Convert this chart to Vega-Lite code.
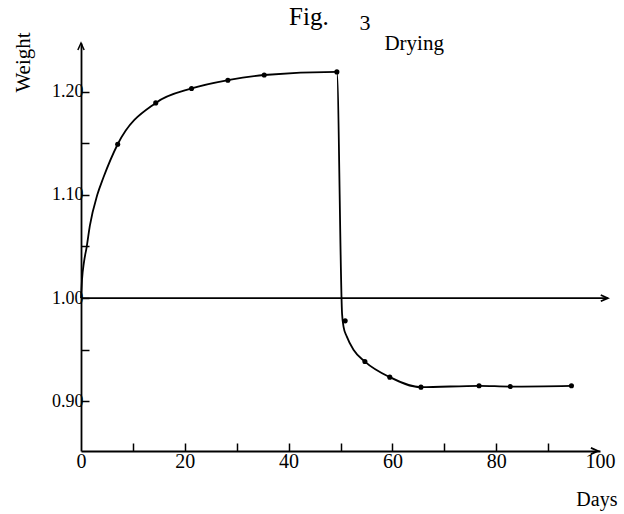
{
  "$schema": "https://vega.github.io/schema/vega-lite/v6.json",
  "width": 519,
  "height": 408,
  "autosize": "none",
  "padding": {"left": 81, "top": 43, "right": 24, "bottom": 63},
  "background": "white",
  "config": {"view": {"stroke": null}, "font": "Liberation Serif"},
  "datasets": {
    "curve": [
      {"day": 0, "weight": 1.0},
      {"day": 0.19, "weight": 1.0177},
      {"day": 0.58, "weight": 1.035},
      {"day": 1.1, "weight": 1.0497},
      {"day": 1.7, "weight": 1.07},
      {"day": 3.14, "weight": 1.1},
      {"day": 4.3, "weight": 1.1165},
      {"day": 7.07, "weight": 1.149},
      {"day": 14.4, "weight": 1.189},
      {"day": 21.3, "weight": 1.203},
      {"day": 28.3, "weight": 1.211},
      {"day": 35.3, "weight": 1.216},
      {"day": 49.3, "weight": 1.219},
      {"day": 50.3, "weight": 0.985},
      {"day": 50.6, "weight": 0.972},
      {"day": 51.2, "weight": 0.963},
      {"day": 52.5, "weight": 0.95},
      {"day": 54.7, "weight": 0.9386},
      {"day": 59.5, "weight": 0.9235},
      {"day": 65.5, "weight": 0.9138},
      {"day": 76.7, "weight": 0.9151},
      {"day": 82.7, "weight": 0.9144},
      {"day": 94.5, "weight": 0.9151}
    ],
    "dots": [
      {"day": 7.07, "weight": 1.149},
      {"day": 14.4, "weight": 1.189},
      {"day": 21.3, "weight": 1.203},
      {"day": 28.3, "weight": 1.211},
      {"day": 35.3, "weight": 1.216},
      {"day": 49.3, "weight": 1.219},
      {"day": 50.9, "weight": 0.978},
      {"day": 54.7, "weight": 0.9386},
      {"day": 59.5, "weight": 0.9235},
      {"day": 65.5, "weight": 0.9138},
      {"day": 76.7, "weight": 0.9151},
      {"day": 82.7, "weight": 0.9144},
      {"day": 94.5, "weight": 0.9151}
    ]
  },
  "layer": [
    {
      "data": {"values": [{"day": 0, "day2": 101.5, "weight": 1.0}]},
      "mark": {"type": "rule", "color": "black", "strokeWidth": 1.8, "clip": false},
      "encoding": {
        "x": {"field": "day", "type": "quantitative", "scale": {"domain": [0, 100], "nice": false, "zero": false},
          "axis": {
            "values": [0, 10, 20, 30, 40, 50, 60, 70, 80, 90, 100],
            "labelExpr": "datum.value % 20 == 0 ? format(datum.value, 'd') : ''",
            "title": null,
            "grid": false,
            "domainColor": "black",
            "domainWidth": 1.8,
            "tickColor": "black",
            "tickWidth": 1.5,
            "tickSize": -8,
            "tickOpacity": {"condition": {"test": "datum.value == 100 || datum.value == 0", "value": 0}, "value": 1},
            "labelFont": "Liberation Serif",
            "labelFontSize": 20,
            "labelColor": "black",
            "labelPadding": 8,
            "labelFlush": false,
            "labelOverlap": false
          }},
        "x2": {"field": "day2"},
        "y": {"field": "weight", "type": "quantitative", "scale": {"domain": [0.852, 1.247], "nice": false, "zero": false},
          "axis": {
            "values": [0.9, 0.95, 1.0, 1.05, 1.1, 1.15, 1.2],
            "labelExpr": "round(datum.value * 100) % 10 == 0 ? format(datum.value, '.2f') : ''",
            "title": null,
            "grid": false,
            "domainColor": "black",
            "domainWidth": 1.8,
            "tickColor": "black",
            "tickWidth": 1.5,
            "tickSize": -8,
            "labelFont": "Liberation Serif",
            "labelFontSize": 18,
            "labelColor": "black",
            "labelPadding": 6,
            "labelOverlap": false
          }}
      }
    },
    {
      "data": {"name": "curve"},
      "mark": {"type": "line", "color": "black", "strokeWidth": 1.8, "interpolate": "monotone", "clip": false},
      "encoding": {
        "x": {"field": "day", "type": "quantitative"},
        "y": {"field": "weight", "type": "quantitative"}
      }
    },
    {
      "data": {"name": "dots"},
      "mark": {"type": "point", "filled": true, "color": "black", "size": 26, "opacity": 1},
      "encoding": {
        "x": {"field": "day", "type": "quantitative"},
        "y": {"field": "weight", "type": "quantitative"}
      }
    },
    {
      "data": {"values": [{"day": 99.6, "weight": 0.852}, {"day": 101.5, "weight": 1.0}]},
      "mark": {"type": "point", "shape": "M-1,-0.45L0,0L-1,0.45", "filled": false, "color": "black", "strokeWidth": 1.8, "size": 196, "opacity": 1, "clip": false},
      "encoding": {
        "x": {"field": "day", "type": "quantitative"},
        "y": {"field": "weight", "type": "quantitative"}
      }
    },
    {
      "data": {"values": [{"day": 0, "weight": 1.247}]},
      "mark": {"type": "point", "shape": "M-0.45,1L0,0L0.45,1", "filled": false, "color": "black", "strokeWidth": 1.5, "size": 196, "opacity": 1, "clip": false},
      "encoding": {
        "x": {"field": "day", "type": "quantitative"},
        "y": {"field": "weight", "type": "quantitative"}
      }
    },
    {
      "data": {"values": [{"label": "Fig.", "day": 43.9, "weight": 1.2645}]},
      "mark": {"type": "text", "fontSize": 25, "font": "Liberation Serif", "color": "black", "align": "center", "baseline": "alphabetic", "clip": false},
      "encoding": {
        "x": {"field": "day", "type": "quantitative"},
        "y": {"field": "weight", "type": "quantitative"},
        "text": {"field": "label"}
      }
    },
    {
      "data": {"values": [{"label": "3", "day": 54.7, "weight": 1.2596}]},
      "mark": {"type": "text", "fontSize": 22, "font": "Liberation Serif", "color": "black", "align": "center", "baseline": "alphabetic", "clip": false},
      "encoding": {
        "x": {"field": "day", "type": "quantitative"},
        "y": {"field": "weight", "type": "quantitative"},
        "text": {"field": "label"}
      }
    },
    {
      "data": {"values": [{"label": "Drying", "day": 64.2, "weight": 1.2402}]},
      "mark": {"type": "text", "fontSize": 21, "font": "Liberation Serif", "color": "black", "align": "center", "baseline": "alphabetic", "clip": false},
      "encoding": {
        "x": {"field": "day", "type": "quantitative"},
        "y": {"field": "weight", "type": "quantitative"},
        "text": {"field": "label"}
      }
    },
    {
      "data": {"values": [{"label": "Weight", "day": -9.8, "weight": 1.2281}]},
      "mark": {"type": "text", "fontSize": 21, "font": "Liberation Serif", "color": "black", "align": "center", "baseline": "alphabetic", "angle": 270, "clip": false},
      "encoding": {
        "x": {"field": "day", "type": "quantitative"},
        "y": {"field": "weight", "type": "quantitative"},
        "text": {"field": "label"}
      }
    },
    {
      "data": {"values": [{"label": "Days", "day": 99.4, "weight": 0.7985}]},
      "mark": {"type": "text", "fontSize": 20, "font": "Liberation Serif", "color": "black", "align": "center", "baseline": "alphabetic", "clip": false},
      "encoding": {
        "x": {"field": "day", "type": "quantitative"},
        "y": {"field": "weight", "type": "quantitative"},
        "text": {"field": "label"}
      }
    }
  ]
}
